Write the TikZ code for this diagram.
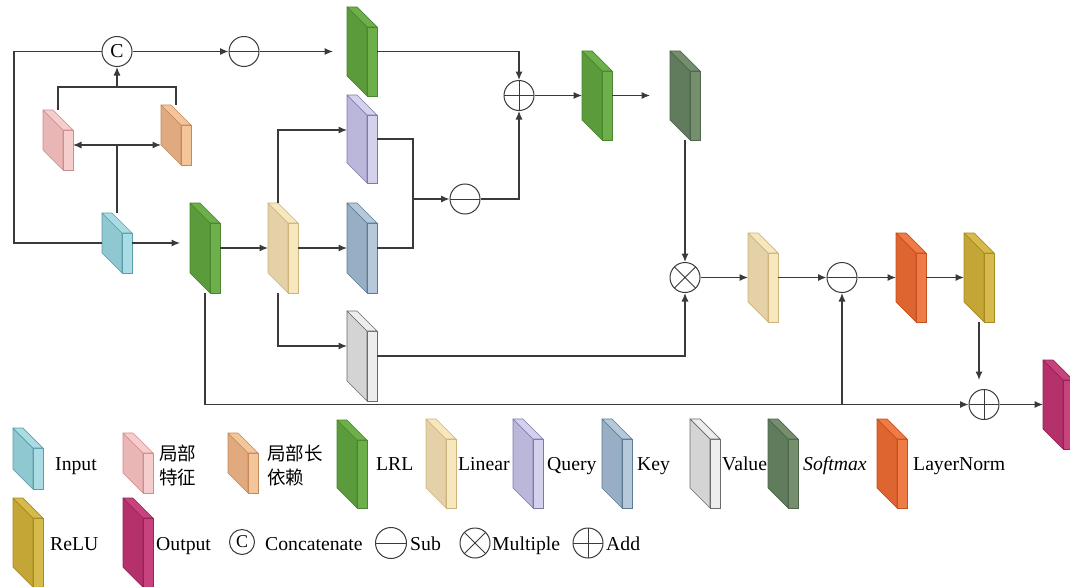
\documentclass[tikz,border=0pt]{standalone}
\usepackage{fontspec}
\setmainfont{Liberation Serif}
\newfontfamily\cjk{Noto Sans CJK SC}
\usetikzlibrary{arrows.meta,calc}
\definecolor{inpS}{HTML}{8FC8D0}\definecolor{inpF}{HTML}{AADCE3}\definecolor{inpE}{HTML}{5A9EAA}
\definecolor{pkS}{HTML}{E9B5B5}\definecolor{pkF}{HTML}{F6CDCD}\definecolor{pkE}{HTML}{CF8C8C}
\definecolor{ogS}{HTML}{E0A97E}\definecolor{ogF}{HTML}{F3C599}\definecolor{ogE}{HTML}{C4895A}
\definecolor{lrlS}{HTML}{5B9B3B}\definecolor{lrlF}{HTML}{6DAF4A}\definecolor{lrlE}{HTML}{4A8630}
\definecolor{linS}{HTML}{E4D1A7}\definecolor{linF}{HTML}{F7E7BC}\definecolor{linE}{HTML}{CDB47F}
\definecolor{qS}{HTML}{BAB7DB}\definecolor{qF}{HTML}{D3D1EC}\definecolor{qE}{HTML}{7D7AAB}
\definecolor{kS}{HTML}{98AEC5}\definecolor{kF}{HTML}{B5C9DB}\definecolor{kE}{HTML}{5C7A92}
\definecolor{vS}{HTML}{D4D4D4}\definecolor{vF}{HTML}{EDEDED}\definecolor{vE}{HTML}{6B6B6B}
\definecolor{smS}{HTML}{617B5D}\definecolor{smF}{HTML}{748E6E}\definecolor{smE}{HTML}{4E674A}
\definecolor{lnS}{HTML}{DE6430}\definecolor{lnF}{HTML}{EF7B46}\definecolor{lnE}{HTML}{C45121}
\definecolor{rlS}{HTML}{C3A635}\definecolor{rlF}{HTML}{D7BA4C}\definecolor{rlE}{HTML}{A58B23}
\definecolor{outS}{HTML}{B4316C}\definecolor{outF}{HTML}{C8427D}\definecolor{outE}{HTML}{932556}
\definecolor{lineC}{HTML}{3A3A3A}
\newcommand{\slabblock}[5]{%
  \filldraw[draw=#5E, fill=#5S, line width=0.7pt, line join=round] (#2,#3) -- (#2,#3+#4) -- (#2-20,#3+#4-20) -- (#2-20,#3-20) -- cycle;
  \filldraw[draw=#5E, fill=#5F, line width=0.7pt] (#2,#3) rectangle (#2+10,#3+#4);
  \filldraw[draw=#5E, fill=#5F, line width=0.7pt, line join=round] (#2,#3) -- (#2+10,#3) -- (#2-10,#3-20) -- (#2-20,#3-20) -- cycle;
  \node[inner sep=0pt, outer sep=0pt, minimum width=30pt, minimum height=#4pt+20pt] (#1) at (#2-5,#3+#4/2-10) {};
}
\begin{document}
\begin{tikzpicture}[x=1pt,y=-1pt,
  conn/.style={draw=lineC, line width=1.1pt},
  arr/.style={conn, -{Latex[length=8.5pt,width=7pt]}},
  dbl/.style={conn, {Latex[length=8.5pt,width=7pt]}-{Latex[length=8.5pt,width=7pt]}},
  opnode/.style={circle, draw=lineC, line width=1pt, minimum size=30pt, inner sep=0pt, fill=white},
  subop/.style={opnode, path picture={\draw[lineC,line width=1pt] (path picture bounding box.west) -- (path picture bounding box.east);}},
  addop/.style={opnode, path picture={\draw[lineC,line width=1pt] (path picture bounding box.west) -- (path picture bounding box.east) (path picture bounding box.north) -- (path picture bounding box.south);}},
  mulop/.style={opnode, path picture={\draw[lineC,line width=1pt] (path picture bounding box.north west) -- (path picture bounding box.south east) (path picture bounding box.north east) -- (path picture bounding box.south west);}},
  lbl/.style={anchor=base west, inner sep=0pt, font=\fontsize{19.7}{23}\selectfont},
  clbl/.style={anchor=base west, inner sep=0pt, font=\fontsize{18.5}{22}\selectfont\cjk}
]
\useasboundingbox (0,0) rectangle (1070,586);
% ---- main blocks ----
\slabblock{inp}{122}{233}{40}{inp}
\slabblock{pk}{63}{130}{40}{pk}
\slabblock{og}{181}{125}{40}{og}
\slabblock{g1}{367}{27}{69}{lrl}
\slabblock{q}{367}{115}{68}{q}
\slabblock{k}{367}{223}{70}{k}
\slabblock{v}{367}{331}{70}{v}
\slabblock{g2}{210}{223}{70}{lrl}
\slabblock{l1}{288}{223}{70}{lin}
\slabblock{g3}{602}{71}{69}{lrl}
\slabblock{sm}{690}{71}{69}{sm}
\slabblock{l2}{768}{253}{69}{lin}
\slabblock{ln}{916}{253}{69}{ln}
\slabblock{rl}{984}{253}{69}{rl}
\slabblock{outp}{1063}{380}{69}{out}
% ---- operators ----
\node[opnode, font=\fontsize{19.7}{23}\selectfont] (cat) at (117,51.5) {C};
\node[subop] (s1) at (244,51.5) {};
\node[addop] (a1) at (519,95.5) {};
\node[subop] (s2) at (465,199) {};
\node[mulop] (mu) at (685,277.5) {};
\node[subop] (s3) at (842,277.5) {};
\node[addop] (a2) at (984,404.5) {};
% ---- connectors ----
\coordinate (sp) at (117,145);
\coordinate (tp) at (117,87);
\coordinate (lft) at (14,51.5);
\coordinate (qk) at (413,199);
\draw[conn] (inp.north) -- (sp);
\draw[dbl] (sp -| pk.east) -- (sp -| og.west);
\draw[conn] (pk.north) -- (pk.north |- tp) -- (og.north |- tp) -- (og.north);
\draw[arr] (tp) -- (cat.south);
\draw[conn] (inp.west) -- (inp.west -| lft) -- (lft) -- (cat.west);
\draw[arr, shorten >=10pt] (inp.east) -- (inp.east -| g2.west);
\draw[arr] (cat.east) -- (s1.west);
\draw[arr, shorten >=14pt] (s1.east) -- (s1.east -| g1.west);
\draw[arr] (g1.east) -| (a1.north);
\draw[arr] (g2.east) -- (l1.west);
\draw[arr] (l1.east) -- (k.west);
\draw[arr] ([xshift=-5pt]l1.north) |- ([yshift=9pt]q.west);
\draw[arr] ([xshift=-5pt]l1.south) |- ([yshift=10pt]v.west);
\draw[conn] (q.east) -| (qk) |- (k.east);
\draw[arr] (qk) -- (s2.west);
\draw[arr] (s2.east) -| (a1.south);
\draw[arr] (a1.east) -- (a1.east -| g3.west);
\draw[arr, shorten >=20pt] (g3.east) -- (sm.west);
\draw[arr] (sm.south) -- (mu.north);
\draw[arr] (v.east) -| (mu.south);
\draw[arr] (mu.east) -- (mu.east -| l2.west);
\draw[arr] (l2.east) -- (l2.east -| s3.west);
\draw[arr] (s3.east) -- (s3.east -| ln.west);
\draw[arr] (ln.east) -- (ln.east -| rl.west);
\draw[arr, shorten >=9pt] (rl.south) -- (rl.south |- a2.north);
\draw[arr] (g2.south) |- (a2.west);
\draw[arr] (s3.south |- a2.west) -- (s3.south);
\draw[arr] (a2.east) -- (a2.east -| outp.west);
% ---- legend ----
\slabblock{lgInp}{33}{448}{41}{inp}
\slabblock{lgPk}{143}{453}{40}{pk}
\slabblock{lgOg}{248}{453}{40}{og}
\slabblock{lgLrl}{357}{440}{68}{lrl}
\slabblock{lgLin}{446}{439}{69}{lin}
\slabblock{lgQ}{533}{439}{69}{q}
\slabblock{lgK}{622}{439}{69}{k}
\slabblock{lgV}{710}{439}{69}{v}
\slabblock{lgSm}{788}{439}{69}{sm}
\slabblock{lgLn}{897}{439}{69}{ln}
\slabblock{lgRl}{33}{518}{69}{rl}
\slabblock{lgOut}{143}{518}{69}{out}
\node[lbl] (tInp) at (55,470) {Input};
\node[clbl] (tPk1) at (159,460) {局部};
\node[clbl] (tPk2) at (159,484) {特征};
\node[clbl] (tOg1) at (267,460) {局部长};
\node[clbl] (tOg2) at (267,484) {依赖};
\node[lbl] (tLrl) at (376,470) {LRL};
\node[lbl] (tLin) at (458,470) {Linear};
\node[lbl] (tQ) at (547,470) {Query};
\node[lbl] (tK) at (637,470) {Key};
\node[lbl] (tV) at (722,470) {Value};
\node[lbl] (tSm) at (803,470) {\textit{Softmax}};
\node[lbl] (tLn) at (913,470) {LayerNorm};
\node[lbl] (tRl) at (50,550) {ReLU};
\node[lbl] (tOut) at (156,550) {Output};
\node[opnode, minimum size=25pt, font=\fontsize{18}{22}\selectfont] (lgC) at (242,542) {C};
\node[lbl] (tC) at (265,550) {Concatenate};
\node[subop, minimum size=31pt] (lgS) at (391,543) {};
\node[lbl] (tS) at (410,550) {Sub};
\node[mulop] (lgM) at (475,543) {};
\node[lbl] (tM) at (492,550) {Multiple};
\node[addop] (lgA) at (588,543) {};
\node[lbl] (tA) at (606,550) {Add};
\end{tikzpicture}
\end{document}
